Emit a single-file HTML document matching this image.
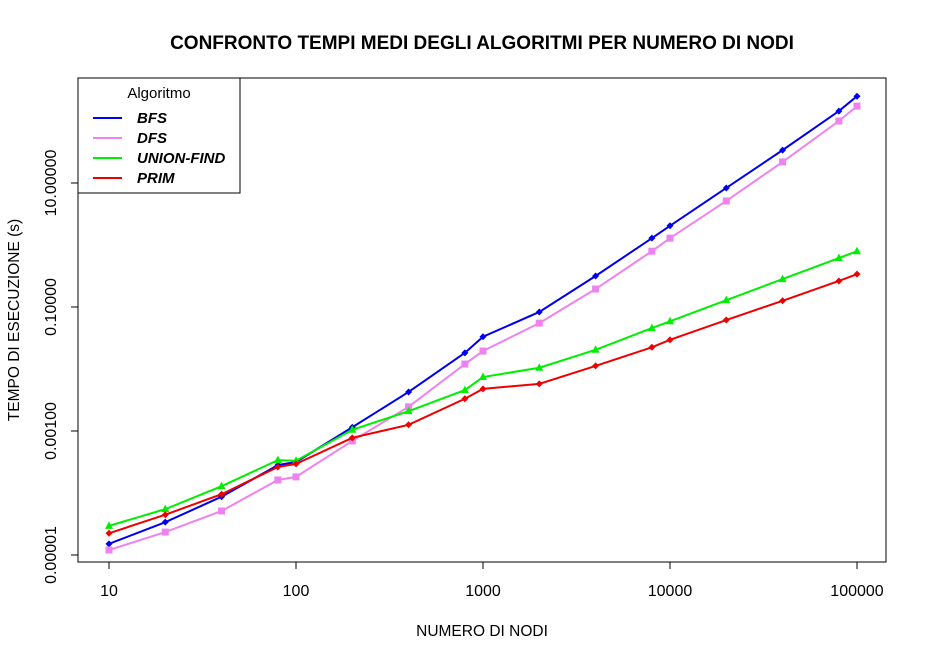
<!DOCTYPE html>
<html><head><meta charset="utf-8"><style>
body{margin:0;background:#fff}
svg text{font-family:"Liberation Sans",Arial,sans-serif}
</style></head><body>
<svg id="chart" width="927" height="660" viewBox="0 0 927 660">
<rect width="927" height="660" fill="#fff"/>
<text x="482" y="49" text-anchor="middle" font-size="19" font-weight="bold">CONFRONTO TEMPI MEDI DEGLI ALGORITMI PER NUMERO DI NODI</text>
<text x="482" y="636" text-anchor="middle" font-size="15.5">NUMERO DI NODI</text>
<text transform="translate(19,320) rotate(-90)" text-anchor="middle" font-size="15.5">TEMPO DI ESECUZIONE (s)</text>
<rect x="78" y="78" width="808" height="484" fill="none" stroke="#000"/>
<g id="axes"></g>
<g id="series"></g>
<g>
<rect x="78" y="78" width="162" height="115" fill="#fff" stroke="#000"/>
<text x="159" y="98" text-anchor="middle" font-size="15">Algoritmo</text>
<g id="legend-items"></g>
</g>
</svg>
<script>
const xValues=[10,20,40,80,100,200,400,800,1000,2000,4000,8000,10000,20000,40000,80000,100000];
const bfsLog=[-4.82,-4.47,-4.06,-3.55,-3.5,-2.94,-2.37,-1.74,-1.48,-1.08,-0.5,0.11,0.31,0.92,1.53,2.16,2.40];
const dfsLog=[-4.92,-4.63,-4.29,-3.79,-3.74,-3.16,-2.61,-1.92,-1.71,-1.26,-0.71,-0.10,0.11,0.71,1.34,2.0,2.24];
const unionLog=[-4.53,-4.26,-3.89,-3.47,-3.48,-2.98,-2.68,-2.34,-2.13,-1.98,-1.69,-1.34,-1.23,-0.89,-0.55,-0.21,-0.10];
const primLog=[-4.65,-4.35,-4.02,-3.58,-3.53,-3.11,-2.90,-2.48,-2.32,-2.24,-1.95,-1.65,-1.53,-1.21,-0.90,-0.58,-0.47];
const seriesNames=["BFS","DFS","UNION-FIND","PRIM"];
const seriesColors=["#0000ee","#ee82ee","#00ee00","#ee0000"];
const xTicks=[10,100,1000,10000,100000];
const xTickLabels=["10","100","1000","10000","100000"];
const yTicks=[-5,-3,-1,1];
const yTickLabels=["0.00001","0.00100","0.10000","10.00000"];
const NS="http://www.w3.org/2000/svg";
const xs=v=>109+(Math.log10(v)-1)*187;
const ys=l=>555-(l+5)*62;
function mk(t,a,p){const e=document.createElementNS(NS,t);for(const k in a)e.setAttribute(k,a[k]);p.appendChild(e);return e;}
const axes=document.getElementById('axes');
mk('line',{x1:xs(10),x2:xs(100000),y1:562,y2:562,stroke:'#000'},axes);
xTicks.forEach((v,i)=>{
 const l=mk('line',{x1:xs(v),x2:xs(v),y1:562,y2:569,stroke:'#000'},axes);
 
 
 const t=mk('text',{x:xs(v),y:596,'text-anchor':'middle','font-size':16},axes);t.textContent=xTickLabels[i];
 
 
});
mk('line',{x1:78,x2:78,y1:ys(-5),y2:ys(1),stroke:'#000'},axes);
yTicks.forEach((v,i)=>{
 const l=mk('line',{x1:71,x2:78,y1:ys(v),y2:ys(v),stroke:'#000'},axes);
 
 
 const t=mk('text',{transform:`translate(56,${ys(v)}) rotate(-90)`,'text-anchor':'middle','font-size':16},axes);t.textContent=yTickLabels[i];
 
 
});
const sg=document.getElementById('series');
const data=[bfsLog,dfsLog,unionLog,primLog];
function marker(kind,x,y,c,g){
 if(kind==='square')return mk('rect',{x:x-3.5,y:y-3.5,width:7,height:7,fill:c},g);
 if(kind==='tri')return mk('polygon',{points:`${x},${y-4.5} ${x-4},${y+3} ${x+4},${y+3}`,fill:c},g);
 return mk('polygon',{points:`${x},${y-3.5} ${x+3.5},${y} ${x},${y+3.5} ${x-3.5},${y}`,fill:c},g);
}
const kinds=['diamond','square','tri','diamond'];
data.forEach((arr,si)=>{
 const g=mk('g',{},sg);
 
 
 const pts=arr.map((l,i)=>xs(xValues[i])+','+ys(l)).join(' ');
 mk('polyline',{points:pts,fill:'none',stroke:seriesColors[si],'stroke-width':2},g);
 arr.forEach((l,i)=>{const m=marker(kinds[si],xs(xValues[i]),ys(l),seriesColors[si],g);
  
  });
});
const lg=document.getElementById('legend-items');
seriesNames.forEach((n,i)=>{
 const y=118+i*20;
 const g=mk('g',{},lg);
 
 
 mk('line',{x1:93,x2:122,y1:y,y2:y,stroke:seriesColors[i],'stroke-width':2},g);
 const t=mk('text',{x:137,y:y+5,'font-size':15,'font-weight':'bold','font-style':'italic'},g);t.textContent=n;
});
</script>
</body></html>
